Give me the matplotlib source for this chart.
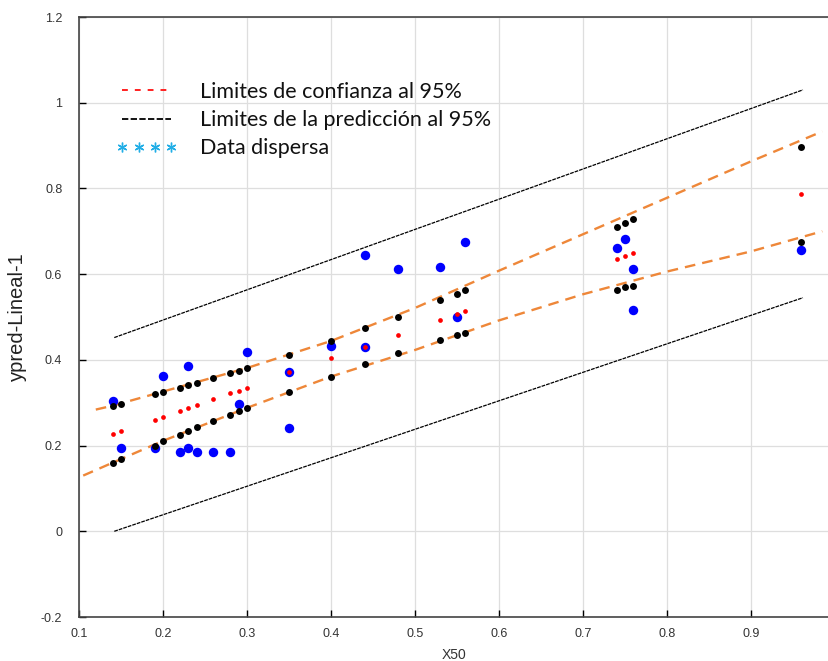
import matplotlib
matplotlib.use("Agg")
import matplotlib.pyplot as plt
from matplotlib.lines import Line2D
from matplotlib.ticker import FuncFormatter, FixedLocator

# ---------------- data ----------------
x_fit = [0.14, 0.15, 0.19, 0.20, 0.22, 0.23, 0.24, 0.26, 0.28, 0.29, 0.30,
         0.35, 0.40, 0.44, 0.48, 0.53, 0.55, 0.56, 0.74, 0.75, 0.76, 0.96]
upper_ci = [0.293, 0.296, 0.320, 0.326, 0.334, 0.341, 0.347, 0.358, 0.370, 0.375, 0.381,
            0.411, 0.444, 0.474, 0.501, 0.539, 0.554, 0.563, 0.711, 0.719, 0.729, 0.897]
fit_vals = [0.226, 0.233, 0.260, 0.267, 0.281, 0.287, 0.294, 0.308, 0.322, 0.328, 0.335,
            0.371, 0.404, 0.430, 0.459, 0.493, 0.506, 0.514, 0.636, 0.643, 0.650, 0.788]
lower_ci = [0.160, 0.169, 0.200, 0.211, 0.225, 0.234, 0.243, 0.258, 0.271, 0.281, 0.288,
            0.326, 0.361, 0.391, 0.415, 0.447, 0.459, 0.462, 0.564, 0.569, 0.572, 0.675]

x_obs = [0.14, 0.15, 0.19, 0.20, 0.22, 0.23, 0.23, 0.24, 0.26, 0.28, 0.29, 0.30, 0.35, 0.35,
         0.40, 0.44, 0.44, 0.48, 0.53, 0.55, 0.56, 0.74, 0.75, 0.76, 0.76, 0.96]
y_obs = [0.303, 0.195, 0.195, 0.362, 0.184, 0.385, 0.195, 0.184, 0.184, 0.184, 0.296, 0.418,
         0.371, 0.240, 0.432, 0.430, 0.645, 0.613, 0.616, 0.500, 0.675, 0.660, 0.681, 0.613,
         0.516, 0.657]

band_x_up = [0.12, 0.14, 0.2, 0.3, 0.4, 0.5, 0.6, 0.7, 0.8, 0.9, 0.985]
band_up = [0.284, 0.293, 0.326, 0.381, 0.444, 0.521, 0.608, 0.693, 0.778, 0.863, 0.933]
band_x_lo = [0.105, 0.14, 0.2, 0.3, 0.4, 0.5, 0.6, 0.7, 0.8, 0.9, 0.985]
band_lo = [0.130, 0.160, 0.211, 0.288, 0.361, 0.423, 0.492, 0.553, 0.606, 0.653, 0.700]

pred_x = [0.142, 0.962]
pred_upper = [0.452, 1.030]
pred_lower = [0.000, 0.545]

x_ticks = [0.1, 0.2, 0.3, 0.4, 0.5, 0.6, 0.7, 0.8, 0.9]
y_ticks = [-0.2, 0, 0.2, 0.4, 0.6, 0.8, 1.0, 1.2]

legend_labels = ["Limites de confianza al 95%",
                 "Limites de la predicción al 95%",
                 "Data dispersa"]

# ---------------- figure ----------------
W, H = 829, 661
fig = plt.figure(figsize=(W / 100, H / 100), dpi=100)
ax = fig.add_axes([79 / W, 1 - 617 / H, 1 - 79 / W, 600 / H])

orange = "#EE8739"

# prediction limits (thin black)
ax.plot(pred_x, pred_upper, color="black", lw=0.9, dashes=(3, 0.8), zorder=2)
ax.plot(pred_x, pred_lower, color="black", lw=0.9, dashes=(3, 0.8), zorder=2)

# confidence band (orange dashed)
ax.plot(band_x_up, band_up, color=orange, lw=1.7, dashes=(4.5, 3), zorder=3)
ax.plot(band_x_lo, band_lo, color=orange, lw=1.7, dashes=(4.5, 3), zorder=3)

# observed data, fit and confidence points
ax.plot(x_obs, y_obs, "o", color="#0000FF", ms=6.8, mec="none", zorder=4)
ax.plot(x_fit, fit_vals, "o", color="#FF0000", ms=3.4, mec="none", zorder=5)
ax.plot(x_fit, upper_ci, "o", color="black", ms=5.0, mec="none", zorder=6)
ax.plot(x_fit, lower_ci, "o", color="black", ms=5.0, mec="none", zorder=6)

ax.set_xlim(0.1, 0.993)
ax.set_ylim(-0.2, 1.2)

ax.xaxis.set_major_locator(FixedLocator(x_ticks))
ax.yaxis.set_major_locator(FixedLocator(y_ticks))
ax.yaxis.set_major_formatter(FuncFormatter(lambda v, p: "%g" % round(v, 2)))
ax.xaxis.set_major_formatter(FuncFormatter(lambda v, p: "%g" % round(v, 2)))

tick_font = ["Liberation Sans Narrow", "Liberation Sans", "DejaVu Sans"]
ax.tick_params(axis="both", direction="in", length=5, width=1, color="black",
               labelcolor="#333333", labelsize=9)
ax.tick_params(axis="y", pad=12)
ax.tick_params(axis="x", pad=8)
for lab in ax.get_xticklabels() + ax.get_yticklabels():
    lab.set_family(tick_font)

ax.grid(True, color="#DEDEDE", lw=0.9, zorder=0)
ax.set_axisbelow(True)

for s in ["left", "bottom", "top"]:
    ax.spines[s].set_color("#444444")
    ax.spines[s].set_linewidth(1.2)
ax.spines["right"].set_visible(False)

ax.set_xlabel("X50", fontsize=10, color="#333333", family=tick_font, labelpad=6)
ax.set_ylabel("ypred-Lineal-1", fontsize=14.5, color="#222222",
              family=["Liberation Sans", "DejaVu Sans"], labelpad=10)

# legend (frameless)
handles = [
    Line2D([], [], color="#FF2020", lw=1.4, dashes=(3, 3.6)),
    Line2D([], [], color="black", lw=1.3, dashes=(3.5, 1.3)),
    Line2D([], [], color="#22AEE6", ls="none", marker=(6, 2, 0), ms=7, mew=1.0),
]
leg = fig.legend(handles, legend_labels, loc="upper left",
                 bbox_to_anchor=(116 / W, 1 - 82 / H), frameon=False,
                 prop={"family": ["Lato", "DejaVu Sans"], "size": 15.5},
                 handlelength=2.85, handletextpad=1.05, labelspacing=0.38,
                 numpoints=4, borderpad=0, borderaxespad=0)
for t in leg.get_texts():
    t.set_color("#111111")

fig.savefig("out.png", dpi=100)
